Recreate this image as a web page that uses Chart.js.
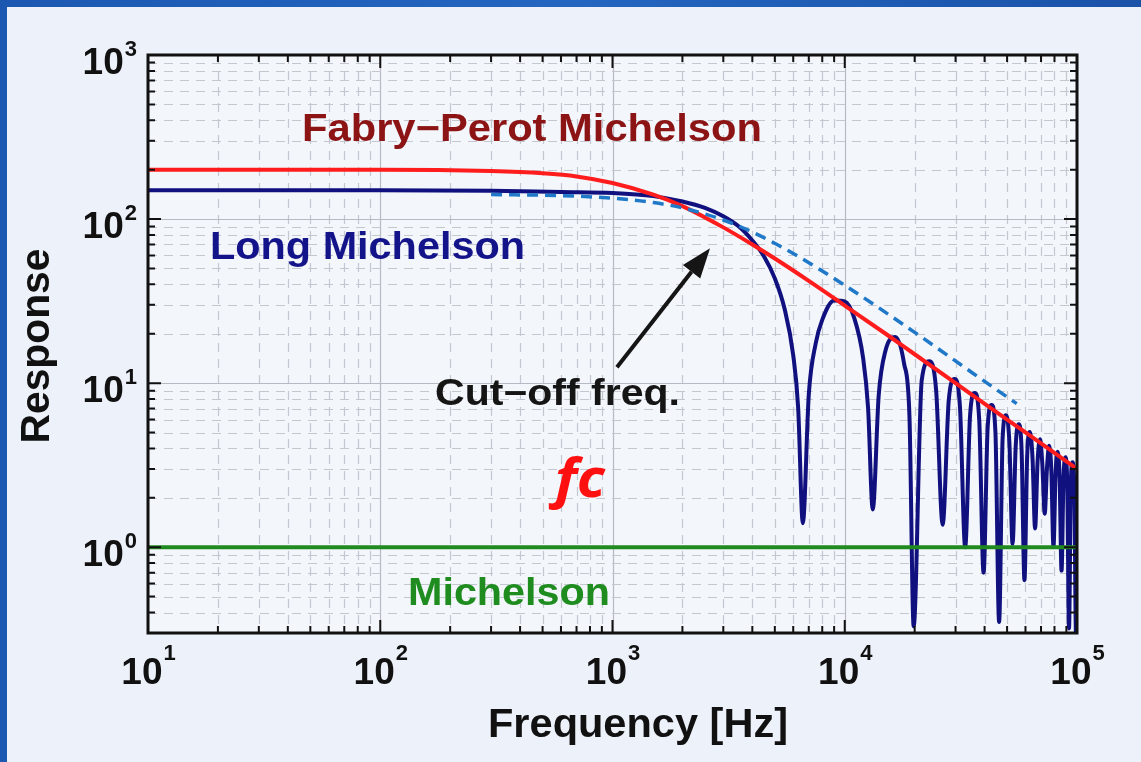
<!DOCTYPE html>
<html>
<head>
<meta charset="utf-8">
<script src="https://cdn.jsdelivr.net/npm/chart.js@4.4.1/dist/chart.umd.min.js"></script>
<style>
  html, body { margin: 0; padding: 0; background: #1d5ab3; }
  #wrap { width: 1141px; height: 762px; position: relative; }
</style>
</head>
<body>
<div id="wrap"><canvas id="chart" width="1141" height="762"></canvas></div>
<script>
// ── data ───────────────────────────────────────────────
const freqFP = [10, 100, 300, 500, 700, 1000, 1500, 2000, 3000, 4000, 5000, 7000,
                10000, 15000, 20000, 30000, 50000, 70000, 100000];
const respFP = [200, 200, 196, 190, 182, 166, 141, 120, 89, 70, 57.5, 42,
                29.7, 20, 15, 10, 6, 4.3, 3.0];

const freqLong = [10, 100, 300, 600, 1000, 1500, 2000, 2500, 3000, 3500, 4000, 4500,
                  5000, 5500, 6000, 6300, 6600,
                  7000, 7500, 8000, 9000, 10000, 11000, 12000, 12600, 13200,
                  14000, 15000, 16500, 18000, 19000, 19800,
                  21450, 23100, 24750, 26400,
                  28050, 29700, 31350, 33000,
                  34650, 36300, 37950, 39600,
                  41250, 42900, 44550, 46200,
                  47850, 49500, 51150, 52800,
                  54450, 56100, 57750, 59400,
                  61050, 62700, 64350, 66000,
                  67650, 69300, 70950, 72600,
                  74250, 75900, 77550, 79200,
                  80850, 82500, 84150, 85800,
                  87450, 89100, 90750, 92400,
                  94050, 95700, 97350, 99000, 100000];
const respLong = [150, 150, 149, 146, 144, 138, 128, 117, 104, 90, 74, 59,
                  43.5, 28.6, 14.8, 7.1, 1.4,
                  8.5, 17.5, 24.3, 31.9, 31.5, 24.8, 14.2, 7.1, 1.7,
                  8.4, 15.9, 19.1, 13.2, 6.2, 0.33,
                  10.4, 13.6, 9.0, 1.37,
                  7.9, 10.6, 7.1, 1.0,
                  6.4, 8.7, 5.9, 0.70,
                  5.4, 7.35, 5.0, 0.35,
                  4.66, 6.37, 4.36, 1.05,
                  4.1, 5.62, 3.87, 0.63,
                  3.67, 5.03, 3.48, 1.3,
                  3.32, 4.55, 3.17, 1.6,
                  3.03, 4.15, 2.91, 1.0,
                  2.79, 3.82, 2.68, 0.72,
                  2.58, 3.54, 2.49, 0.32,
                  2.4, 3.29, 2.33, 0.3, 1.5];

const freqMich = [10, 100000];
const respMich = [1, 1];

const freqTrend = [300, 600, 1000, 1500, 2000, 3000, 4000, 6000, 10000, 20000, 35000, 55000];
const respTrend = [141, 139, 134, 126, 117, 98.7, 83.3, 61.7, 39.5, 20.4, 11.7, 7.5];

// axis decades and their exponent labels
const xDecades = [10, 100, 1000, 10000, 100000];
const xExps    = ['1', '2', '3', '4', '5'];
const yDecades = [1, 10, 100, 1000];
const yExps    = ['0', '1', '2', '3'];
const xRange = [10, 100000];
const yRange = [0.3, 1000];

// cut-off arrow (data coords): tail -> tip
const arrowTail = { x: 1045, y: 12.5 };
const arrowTip  = { x: 2630, y: 66.5 };

const FONT = '"Liberation Sans", Arial, sans-serif';

function pts(xs, ys) { return xs.map((x, i) => ({ x: x, y: ys[i] })); }

function minorTicks(decades, lo, hi) {
  const out = [];
  decades.forEach(d => {
    for (let k = 1; k <= 9; k++) {
      const v = +(k * d / 10).toPrecision(3);
      if (v >= lo && v <= hi) out.push(v);
    }
  });
  decades.forEach(d => { if (d <= hi && out.indexOf(d) < 0) out.push(d); });
  return out;
}
const xTicks = minorTicks(xDecades, xRange[0], xRange[1]);
const yTicks = minorTicks(yDecades, yRange[0], yRange[1]);

function drawText(ctx, s, x, y, font, color, align, w) {
  ctx.save();
  ctx.font = font;
  ctx.fillStyle = color;
  ctx.textBaseline = 'alphabetic';
  ctx.textAlign = 'left';
  const m = ctx.measureText(s).width;
  const sx = w ? w / m : 1;
  const ww = w || m;
  const x0 = align === 'center' ? x - ww / 2 : (align === 'right' ? x - ww : x);
  ctx.translate(x0, y);
  ctx.scale(sx, 1);
  ctx.fillText(s, 0, 0);
  ctx.restore();
}

// ── background + frame ─────────────────────────────────
const backdrop = {
  id: 'backdrop',
  beforeDraw(chart) {
    const { ctx, width, height, chartArea: a } = chart;
    ctx.save();
    const g = ctx.createLinearGradient(0, 0, width, 0);
    g.addColorStop(0, '#1c58b2');
    g.addColorStop(0.5, '#2466c0');
    g.addColorStop(1, '#1a52a8');
    ctx.fillStyle = g;
    ctx.fillRect(0, 0, width, height);
    ctx.fillStyle = '#edf1f9';
    ctx.fillRect(7, 7, width - 7, height - 7);
    ctx.fillStyle = '#f3f6fb';
    ctx.fillRect(a.left, a.top, a.right - a.left, a.bottom - a.top);
    ctx.restore();
  },
  beforeDatasetsDraw(chart) {
    const { ctx, chartArea: a, scales: { x, y } } = chart;
    ctx.save();
    ctx.lineWidth = 1.2;
    xTicks.forEach(v => {
      const px = Math.round(x.getPixelForValue(v)) + 0.5;
      const major = xDecades.indexOf(v) >= 0;
      ctx.strokeStyle = major ? '#b5bac4' : '#c3c7d0';
      ctx.setLineDash(major ? [] : [9, 7]);
      ctx.beginPath(); ctx.moveTo(px, a.top); ctx.lineTo(px, a.bottom); ctx.stroke();
    });
    yTicks.forEach(v => {
      const py = Math.round(y.getPixelForValue(v)) + 0.5;
      const major = yDecades.indexOf(v) >= 0;
      ctx.strokeStyle = major ? '#b5bac4' : '#c3c7d0';
      ctx.setLineDash(major ? [] : [9, 7]);
      ctx.beginPath(); ctx.moveTo(a.left, py); ctx.lineTo(a.right, py); ctx.stroke();
    });
    ctx.restore();
  },
  afterDatasetsDraw(chart) {
    const { ctx, chartArea: a, scales: { x, y } } = chart;
    ctx.save();
    // ticks, inward on all sides
    ctx.strokeStyle = '#111';
    ctx.lineWidth = 2;
    xTicks.forEach(v => {
      const px = x.getPixelForValue(v);
      const len = xDecades.indexOf(v) >= 0 ? 13 : 7;
      ctx.beginPath();
      ctx.moveTo(px, a.bottom); ctx.lineTo(px, a.bottom - len);
      ctx.moveTo(px, a.top); ctx.lineTo(px, a.top + len);
      ctx.stroke();
    });
    yTicks.forEach(v => {
      const py = y.getPixelForValue(v);
      const len = yDecades.indexOf(v) >= 0 ? 13 : 7;
      ctx.beginPath();
      ctx.moveTo(a.left, py); ctx.lineTo(a.left + len, py);
      ctx.moveTo(a.right, py); ctx.lineTo(a.right - len, py);
      ctx.stroke();
    });
    // box
    ctx.lineWidth = 3;
    ctx.strokeRect(a.left, a.top, a.right - a.left, a.bottom - a.top);

    // tick labels 10^n
    const big = 'bold 37px ' + FONT, sup = 'bold 22px ' + FONT;
    xDecades.forEach((v, i) => {
      const px = x.getPixelForValue(v);
      ctx.font = big; const w1 = ctx.measureText('10').width;
      ctx.font = sup; const w2 = ctx.measureText(xExps[i]).width;
      const x0 = px - (w1 + w2) / 2;
      drawText(ctx, '10', x0, a.bottom + 51, big, '#111', 'left');
      drawText(ctx, xExps[i], x0 + w1 + 1, a.bottom + 27, sup, '#111', 'left');
    });
    yDecades.forEach((v, i) => {
      const py = y.getPixelForValue(v);
      ctx.font = sup; const w2 = ctx.measureText(yExps[i]).width;
      const xr = a.left - 11;
      drawText(ctx, yExps[i], xr - w2, py + 1, sup, '#111', 'left');
      drawText(ctx, '10', xr - w2 - 1, py + 19, big, '#111', 'right');
    });

    // axis titles
    drawText(ctx, 'Frequency [Hz]', 638, 737, 'bold 41px ' + FONT, '#111', 'center', 300);
    ctx.save();
    ctx.translate(49, 346);
    ctx.rotate(-Math.PI / 2);
    drawText(ctx, 'Response', 0, 0, 'bold 40px ' + FONT, '#111', 'center', 195);
    ctx.restore();

    // series captions
    drawText(ctx, 'Fabry\u2212Perot Michelson', 302, 141, 'bold 38px ' + FONT, '#8c1414', 'left', 460);
    drawText(ctx, 'Long Michelson', 210, 259, 'bold 38px ' + FONT, '#13138a', 'left', 315);
    drawText(ctx, 'Michelson', 408, 605, 'bold 38px ' + FONT, '#1e8c1e', 'left', 202);
    drawText(ctx, 'Cut\u2212off freq.', 435, 405, 'bold 36px ' + FONT, '#151515', 'left', 245);
    drawText(ctx, 'fc', 555, 497, 'italic bold 54px "Noto Sans", sans-serif', '#ff1010', 'left', 50);

    // arrow
    const tx = x.getPixelForValue(arrowTail.x), ty = y.getPixelForValue(arrowTail.y);
    const hx = x.getPixelForValue(arrowTip.x), hy = y.getPixelForValue(arrowTip.y);
    const ang = Math.atan2(hy - ty, hx - tx);
    const hl = 30, hw = 11;
    const bx = hx - hl * Math.cos(ang), by = hy - hl * Math.sin(ang);
    ctx.strokeStyle = '#151515';
    ctx.fillStyle = '#151515';
    ctx.lineWidth = 4;
    ctx.beginPath(); ctx.moveTo(tx, ty); ctx.lineTo(bx, by); ctx.stroke();
    ctx.beginPath();
    ctx.moveTo(hx, hy);
    ctx.lineTo(bx + hw * Math.sin(ang), by - hw * Math.cos(ang));
    ctx.lineTo(bx - hw * Math.sin(ang), by + hw * Math.cos(ang));
    ctx.closePath(); ctx.fill();
    ctx.restore();
  }
};

new Chart(document.getElementById('chart').getContext('2d'), {
  type: 'line',
  data: {
    datasets: [
      { label: 'trend', data: pts(freqTrend, respTrend), borderColor: '#1f78c8',
        borderWidth: 3.5, borderDash: [11, 7], cubicInterpolationMode: 'monotone' },
      { label: 'Michelson', data: pts(freqMich, respMich), borderColor: '#1f8a1f',
        borderWidth: 4 },
      { label: 'Fabry-Perot Michelson', data: pts(freqFP, respFP), borderColor: '#ff1c1c',
        borderWidth: 4, cubicInterpolationMode: 'monotone' },
      { label: 'Long Michelson', data: pts(freqLong, respLong), borderColor: '#10107e',
        borderWidth: 4, cubicInterpolationMode: 'monotone' }
    ]
  },
  options: {
    responsive: false,
    animation: false,
    devicePixelRatio: 1,
    layout: { padding: { left: 148, right: 64, top: 55, bottom: 129 } },
    elements: { point: { radius: 0, hoverRadius: 0 } },
    plugins: { legend: { display: false }, tooltip: { enabled: false } },
    scales: {
      x: { type: 'logarithmic', min: xRange[0], max: xRange[1], display: false },
      y: { type: 'logarithmic', min: yRange[0], max: yRange[1], display: false }
    }
  },
  plugins: [backdrop]
});
</script>
</body>
</html>
